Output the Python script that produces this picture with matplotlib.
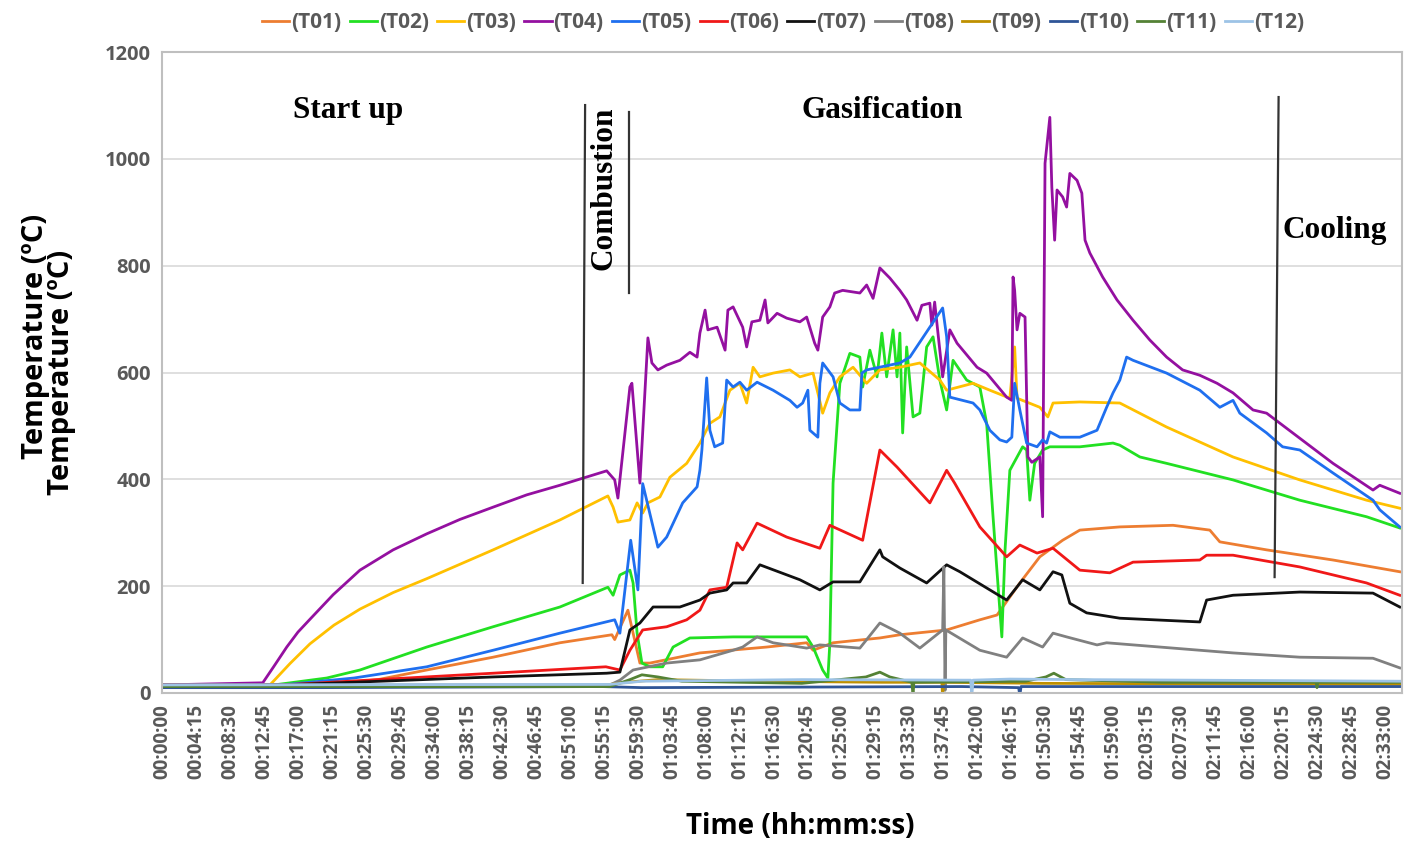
import numpy as np
import matplotlib
matplotlib.use("Agg")
import matplotlib.pyplot as plt

# Temperaturas de los termopares (tiempo en minutos, temperatura en oC)
T01 = [(0, 15), (20, 15), (27, 25), (33.1, 43), (41.4, 67), (49.75, 94), (56.25, 109), (56.6, 100),
       (58.25, 155), (58.9, 112), (59.75, 56), (61.0, 56), (67.25, 75), (75.6, 86), (80.6, 94),
       (81.4, 80), (83.9, 94), (89.75, 103), (92.25, 109), (98.1, 118), (102.25, 137),
       (104.4, 146), (107.25, 206), (109.75, 255), (112.6, 286), (114.75, 305), (119.75, 311),
       (126.4, 314), (131.0, 305), (132.25, 283), (138.1, 268), (146.4, 249), (154.75, 227)]
T02 = [(0, 15), (14, 15), (20.6, 28), (24.75, 43), (33.1, 86), (41.4, 124), (49.75, 161), (55.75, 198),
       (56.4, 183), (57.25, 221), (58.5, 230), (58.9, 206), (59.4, 112), (60.0, 56), (61.0, 49),
       (62.6, 49), (63.9, 86), (66.0, 103), (71.4, 105), (80.6, 105), (81.4, 86), (82.6, 43),
       (83.25, 28), (83.5, 94), (83.9, 393), (84.75, 580), (86.0, 636), (87.25, 629), (87.6, 573),
       (88.5, 642), (89.4, 592), (90.0, 674), (90.6, 592), (91.4, 680), (91.9, 592), (92.25, 674),
       (92.6, 487), (93.1, 648), (93.9, 517), (94.75, 524), (95.6, 648), (96.4, 667), (97.25, 586),
       (98.1, 530), (98.9, 623), (100.6, 586), (102.25, 573), (103.1, 505), (103.9, 330),
       (104.5, 206), (105.0, 105), (105.4, 268), (106.0, 417), (107.6, 461), (108.1, 455),
       (108.5, 361), (109.1, 430), (110.1, 455), (111.0, 461), (114.75, 461), (118.9, 468),
       (119.75, 464), (122.25, 442), (125.6, 430), (133.9, 399), (142.25, 361), (150.6, 330),
       (154.75, 309)]
T03 = [(0, 15), (13.5, 15), (16, 55), (18.5, 92), (21.5, 127), (24.75, 157), (28.9, 188),
       (33.1, 214), (41.4, 268), (49.75, 324), (55.75, 369),
       (56.4, 348), (57.0, 320), (58.5, 324), (59.4, 356), (60.1, 337), (60.75, 356), (62.25, 367),
       (63.5, 404), (65.6, 430), (67.25, 468), (68.5, 505), (69.75, 517), (71.0, 567), (72.25, 580),
       (73.1, 543), (73.9, 610), (74.75, 592), (76.4, 599), (78.5, 605), (79.75, 592), (81.4, 599),
       (82.6, 524), (83.5, 562), (84.75, 592), (86.4, 610), (88.1, 580), (89.75, 605), (92.25, 610),
       (94.75, 618), (97.25, 586), (98.1, 567), (101.4, 580), (103.5, 567), (106.0, 552),
       (106.6, 648), (106.9, 552), (109.75, 535), (110.75, 517), (111.4, 543), (114.75, 545),
       (119.75, 543), (125.6, 498), (133.9, 442), (142.25, 399), (150.6, 361), (154.75, 346)]
T04 = [(0, 15), (12.6, 19), (14.0, 50), (15.6, 86), (17.0, 114), (18.5, 138), (21.4, 184),
       (24.75, 230), (28.9, 268), (33.1, 298), (37.25, 325), (41.4, 348), (45.6, 371), (49.75, 389),
       (55.6, 416), (56.6, 399), (57.0, 365), (58.5, 573), (58.75, 580), (59.75, 393), (60.75, 665),
       (61.25, 618), (62.0, 605), (63.1, 614), (64.75, 623), (66.0, 638), (66.9, 629), (67.25, 674),
       (67.9, 717), (68.25, 680), (69.4, 685), (70.4, 642), (70.75, 717), (71.4, 723), (72.6, 685),
       (73.1, 648), (73.75, 695), (74.75, 698), (75.4, 736), (75.75, 693), (76.9, 711), (78.1, 702),
       (79.75, 695), (80.6, 704), (81.6, 655), (82.0, 642), (82.6, 704), (83.5, 723), (84.1, 749),
       (85.1, 754), (87.25, 749), (88.1, 764), (88.9, 739), (89.75, 796), (91.0, 777), (92.25, 754),
       (93.1, 736), (94.4, 698), (95.0, 726), (96.0, 730), (96.25, 689), (96.6, 732), (97.6, 592),
       (98.5, 680), (99.4, 655), (101.9, 610), (103.1, 599), (105.6, 554), (106.25, 548),
       (106.4, 779), (106.6, 754), (106.9, 680), (107.25, 711), (107.9, 704), (108.25, 442),
       (108.75, 432), (109.75, 442), (110.1, 330), (110.4, 992), (111.0, 1078), (111.25, 947),
       (111.6, 848), (111.9, 942), (112.6, 929), (113.1, 910), (113.5, 973), (114.4, 960),
       (115.0, 936), (115.4, 848), (116.0, 824), (117.6, 779), (118.1, 767), (119.4, 736),
       (121.4, 698), (123.5, 661), (125.6, 629), (127.6, 605), (129.75, 595), (131.9, 580),
       (133.9, 562), (136.4, 530), (138.1, 524), (142.25, 477), (146.4, 430), (151.4, 380),
       (152.25, 389), (154.75, 374)]
T05 = [(0, 15), (15, 15), (24, 28), (33.1, 49), (41.4, 80), (49.75, 112), (56.6, 137), (57.25, 112),
       (58.6, 286), (59.5, 193), (60.1, 392), (62.0, 273), (63.1, 292), (65.1, 356), (66.9, 386),
       (67.25, 417), (67.5, 455), (68.1, 590), (68.5, 492), (69.1, 461), (70.1, 468), (70.6, 586),
       (71.4, 573), (72.25, 582), (73.1, 567), (74.4, 582), (76.4, 567), (78.5, 548), (79.4, 535),
       (80.1, 543), (80.75, 567), (81.0, 492), (82.0, 479), (82.25, 580), (82.6, 618), (83.9, 592),
       (84.75, 543), (86.0, 530), (87.25, 530), (87.5, 599), (88.1, 605), (92.25, 618), (93.5, 629),
       (97.6, 721), (98.1, 667), (98.5, 554), (101.4, 543), (102.25, 530), (103.5, 492),
       (104.75, 474), (105.6, 470), (106.25, 479), (106.6, 580), (107.25, 530), (108.1, 468),
       (109.4, 461), (110.1, 474), (110.6, 468), (111.0, 489), (112.25, 479), (114.75, 479),
       (116.9, 492), (118.1, 535), (118.9, 562), (119.75, 586), (120.6, 629), (121.4, 623),
       (125.6, 599), (129.75, 567), (132.25, 535), (133.9, 548), (134.75, 524), (138.1, 487),
       (140.1, 461), (142.25, 455), (146.4, 412), (151.4, 361), (152.25, 343), (154.75, 311)]
T06 = [(0, 15), (15, 15), (41.4, 37), (55.5, 49), (57.25, 43), (58.5, 80), (60.1, 118),
       (63.1, 124), (65.6, 137), (67.25, 155), (68.5, 193), (70.6, 198), (71.9, 281), (72.6, 268),
       (74.4, 318), (78.1, 292), (82.25, 271), (83.5, 314), (87.6, 286), (89.75, 455), (91.9, 423),
       (96.0, 356), (98.1, 417), (99.1, 393), (102.25, 311), (105.6, 255), (107.25, 277),
       (109.4, 262), (111.4, 271), (114.75, 230), (118.5, 225), (121.4, 245), (129.75, 249),
       (130.6, 258), (133.9, 258), (142.25, 236), (150.6, 206), (154.75, 183)]
T07 = [(0, 12), (15, 15), (41.4, 30), (55.6, 37), (57.25, 39), (58.5, 118), (59.75, 131),
       (61.4, 161), (64.75, 161), (67.25, 174), (68.5, 187), (70.6, 193), (71.4, 206), (73.1, 206),
       (74.75, 240), (79.75, 212), (82.25, 193), (83.9, 208), (87.25, 208), (89.75, 268),
       (90.1, 255), (92.25, 234), (95.6, 206), (98.1, 240), (99.75, 227), (105.6, 174),
       (107.6, 212), (109.75, 193), (111.4, 227), (112.5, 221), (113.5, 168), (115.6, 150),
       (119.75, 140), (129.75, 133), (130.6, 174), (133.9, 183), (142.25, 189), (151.4, 187),
       (154.75, 161)]
T08 = [(0, 15), (56, 15), (57.25, 24), (58.9, 43), (63.1, 56), (67.25, 62), (71.4, 80),
       (72.6, 86), (74.4, 105), (76.4, 94), (80.6, 84), (82.25, 90), (87.25, 84), (89.75, 131),
       (92.25, 112), (94.75, 84), (97.6, 118), (97.75, 236), (97.9, 5), (98.0, 118), (102.25, 80),
       (105.6, 67), (107.6, 103), (110.1, 86), (111.4, 112), (113.1, 105), (116.9, 90),
       (118.1, 94), (133.9, 75), (142.25, 67), (151.4, 65), (154.75, 47)]
T09 = [(0, 14), (55, 14), (58, 20), (62, 25), (75, 22), (90, 20), (97.5, 20), (97.6, -8),
       (97.7, 20), (110, 18), (154.75, 16)]
T10 = [(0, 10), (20, 10), (55, 12), (60, 10), (100, 12), (107.1, 10), (107.25, -5), (107.4, 12),
       (154.75, 12)]
T11 = [(0, 12), (56, 12), (58.5, 25), (60, 34), (62, 30), (65, 22), (80, 18), (88, 30),
       (89.75, 39), (91, 30), (93.75, 20), (93.9, -5), (94.0, 20), (108, 22), (110.5, 30),
       (111.5, 37), (113, 25), (125, 20), (144.3, 20), (144.4, 10), (144.5, 20), (154.75, 20)]
T12 = [(0, 15), (56, 16), (60, 22), (80, 25), (100, 24), (101.1, 24), (101.25, -5),
       (101.4, 24), (106, 26), (115, 25), (154.75, 22)]

series = [T01, T02, T03, T04, T05, T06, T07, T08, T09, T10, T11, T12]
names = ['(T01)', '(T02)', '(T03)', '(T04)', '(T05)', '(T06)',
         '(T07)', '(T08)', '(T09)', '(T10)', '(T11)', '(T12)']
colors = ['#ED7D31', '#22E022', '#FFC000', '#9410A0', '#1F6FEF', '#F01818',
          '#111111', '#808080', '#BF9000', '#2F5597', '#548235', '#9DC3E6']

# Etiquetas del eje x: cada 4:15 min
tick_min = np.arange(0, 153.01, 4.25)
tick_lab = ['%02d:%02d:%02d' % (int(m // 60), int(m % 60), int(round((m % 1) * 60))) for m in tick_min]

plt.rcParams['font.family'] = ['Open Sans', 'DejaVu Sans']

fig = plt.figure(figsize=(14.06, 8.42), dpi=100)
ax = fig.add_axes([0.1152, 0.177, 0.8818, 0.761])

for s, n, c in zip(series, names, colors):
    d = np.array(s)
    ax.plot(d[:, 0], d[:, 1], color=c, lw=2.0, label=n)

ax.set_xlim(0, 155)
ax.set_ylim(0, 1200)
ax.set_yticks(range(0, 1201, 200))
ax.set_xticks(tick_min)
ax.set_xticklabels(tick_lab, rotation=90)
ax.tick_params(length=0, labelsize=14.5, labelcolor='#595959', pad=8)
ax.tick_params(axis='x', labelsize=13.5)
for lab in ax.get_xticklabels() + ax.get_yticklabels():
    lab.set_fontweight('bold')
ax.grid(axis='y', color='#D9D9D9', lw=1.2)
ax.set_axisbelow(True)
for sp in ax.spines.values():
    sp.set_color('#BFBFBF')
    sp.set_linewidth(1.5)

# Fases del proceso
ax.plot([52.9, 52.6], [1101, 206], color='#333333', lw=1.6)
ax.plot([58.4, 58.4], [1088, 749], color='#333333', lw=1.6)
ax.plot([139.6, 139.1], [1116, 217], color='#333333', lw=1.6)
serif = dict(family='Liberation Serif', fontweight='bold', fontsize=22.5, color='black')
ax.text(23.25, 1091, 'Start up', ha='center', va='center', **serif)
ax.text(90, 1091, 'Gasification', ha='center', va='center', **serif)
ax.text(55.2, 945, 'Combustion', ha='center', va='center', rotation=90, **serif)
ax.text(146.6, 867, 'Cooling', ha='center', va='center', **serif)

# Etiquetas de los ejes
fig.text(0.025, 0.60, 'Temperature (\u00baC)', rotation=90, ha='center', va='center',
         fontsize=21, fontweight='bold')
fig.text(0.044, 0.558, 'Temperature (\u00baC)', rotation=90, ha='center', va='center',
         fontsize=21, fontweight='bold')
fig.text(0.569, 0.018, 'Time (hh:mm:ss)', ha='center', va='center',
         fontsize=20, fontweight='bold')

leg = fig.legend(loc='upper center', bbox_to_anchor=(0.557, 1.008), ncol=12, frameon=False,
                 handlelength=1.3, handletextpad=0.1, columnspacing=0.4,
                 prop={'size': 15, 'weight': 'bold'})
for t in leg.get_texts():
    t.set_color('#595959')

fig.savefig('out.png', dpi=100)
